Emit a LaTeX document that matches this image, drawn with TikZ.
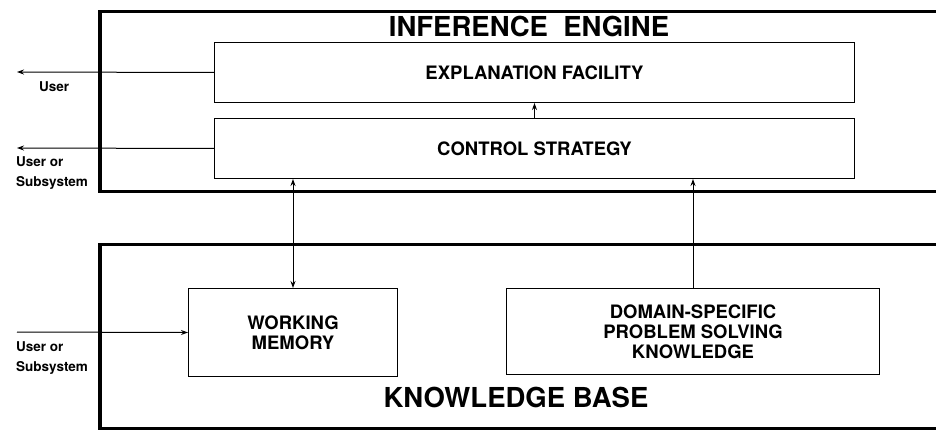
\documentclass[tikz,border=0pt]{standalone}
\usepackage{fontspec}
\setmainfont{TeX Gyre Heros}
\usetikzlibrary{arrows.meta}

\begin{document}
\begin{tikzpicture}[x=1pt,y=-1pt,
    frame/.style={draw,line width=3.5pt,anchor=north west,inner sep=0pt},
    unit/.style={draw,line width=1pt,anchor=north west,inner sep=0pt,align=center,
        font=\bfseries\fontsize{18.5}{20}\selectfont},
    title/.style={font=\bfseries\fontsize{27.5}{30}\selectfont},
    lbl/.style={font=\bfseries\fontsize{13.5}{20.5}\selectfont,align=left,anchor=north west,inner sep=0pt},
    link/.style={line width=1pt,-{Stealth[length=7pt,width=5pt]}}]
    \clip (0,0) rectangle (936,430);
    % the two large frames
    \node[frame,minimum width=900pt,minimum height=180pt] (engine) at (98,10) {};
    \node[frame,minimum width=900pt,minimum height=184pt] (kbase) at (98,243) {};
    \node[title] (engtitle) at (529,26) {INFERENCE\ \ ENGINE};
    \node[title] (kbtitle) at (516,397) {KNOWLEDGE BASE};
    % inner units
    \node[unit,minimum width=640pt,minimum height=60pt] (expl) at (214,42) {EXPLANATION FACILITY};
    \node[unit,minimum width=640pt,minimum height=60pt] (control) at (214,118) {CONTROL STRATEGY};
    \node[unit,minimum width=209pt,minimum height=88pt] (wmem) at (188,288) {WORKING\\MEMORY};
    \node[unit,minimum width=373pt,minimum height=86pt] (domain) at (506,288) {DOMAIN-SPECIFIC\\PROBLEM SOLVING\\KNOWLEDGE};
    % outside ends
    \coordinate (u1) at (17,72);
    \coordinate (u2) at (17,148);
    \coordinate (u3) at (17,332);
    \node[lbl] (l1) at (39,81) {User};
    \node[lbl] (l2) at (16,156) {User or\\Subsystem};
    \node[lbl] (l3) at (16,341) {User or\\Subsystem};
    % connectors
    \draw[link] (expl.west) -- (u1);
    \draw[link] (control.west) -- (u2);
    \draw[link] (u3) -- (wmem.west);
    \draw[link] (control.north) -- (expl.south);
    \draw[link,{Stealth[length=7pt,width=5pt]}-{Stealth[length=7pt,width=5pt]}] (wmem.north) -- (wmem.north |- control.south);
    \draw[link] (domain.north) -- (domain.north |- control.south);
\end{tikzpicture}
\end{document}
